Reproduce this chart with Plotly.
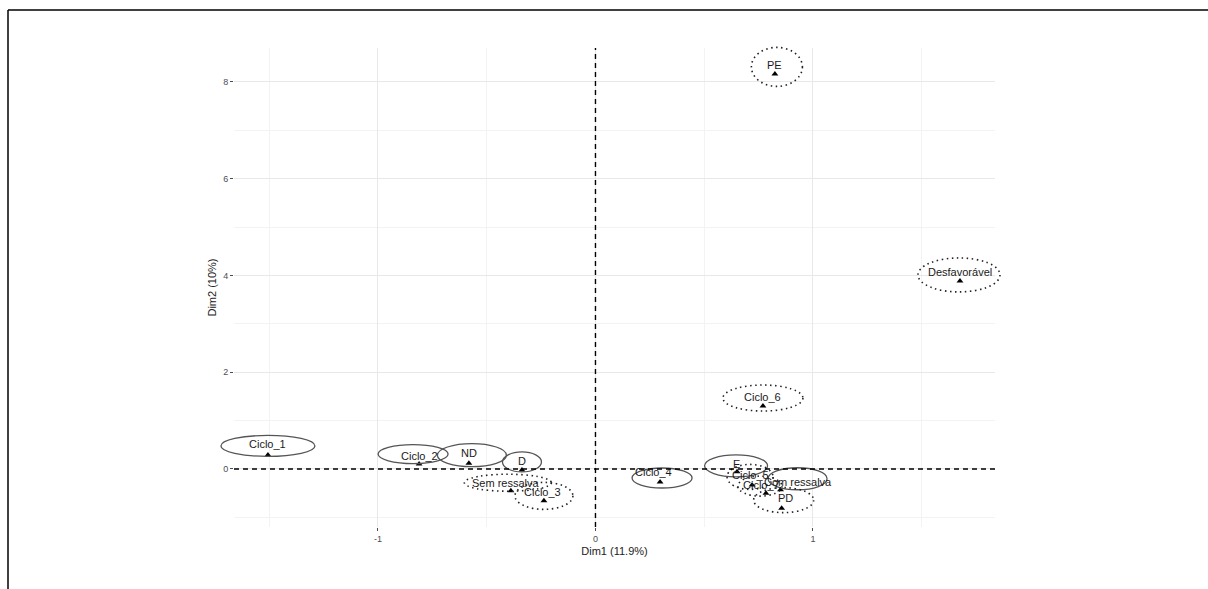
import plotly.graph_objects as go

# Category coordinates on the first two dimensions
categories = ["Ciclo_1", "Ciclo_2", "ND", "D", "Sem ressalva", "Ciclo_3", "Ciclo_4",
              "E", "Ciclo_5", "Ciclo_7", "Com ressalva", "PD", "Ciclo_6",
              "Desfavorável", "PE"]
dim1 = [-1.506, -0.811, -0.582, -0.338, -0.389, -0.237, 0.297,
        0.651, 0.720, 0.784, 0.851, 0.856, 0.770, 1.676, 0.825]
dim2 = [0.29, 0.10, 0.12, -0.02, -0.45, -0.66, -0.27,
        -0.06, -0.33, -0.50, -0.43, -0.81, 1.30, 3.886, 8.165]
group = ["solid", "solid", "solid", "solid", "dot", "dot", "solid",
         "solid", "dot", "dot", "solid", "dot", "dot", "dot", "dot"]

x_ticks = [-1, 0, 1]
y_ticks = [0, 2, 4, 6, 8]

# Label placement (pixel offsets from the point) and ellipse outline sizes (pixels)
label_dx = [0, 0, 0, 0, -5, -1, -7, -1, -2, -4, 17, 4, 0, 0, 0]
label_dy = [11, 8, 10, 9, 8, 9, 10, 8, 10, 8, 8, 10, 9, 9, 9]
ell_dx = [0, -6, 3, 0, -3, 0, 2, -1, -2, -6, 17, 2, 0, -1, 2]
ell_dy = [9, 10, 8, 8, 8, 5, 4, 6, 8, 7, 11, 8, 8, 6, 7]
ell_w = [94, 70, 69, 39, 87, 58, 60, 63, 46, 44, 59, 60, 80, 82, 51]
ell_h = [21, 19, 23, 20, 17, 27, 20, 22, 25, 20, 22, 25, 26, 34, 39]

W, H = 1208, 589
ML, MR, MT, MB = 234, 213, 48, 62
x_range = [-1.662, 1.837]
y_range = [-1.2, 8.7]
pw, ph = W - ML - MR, H - MT - MB

# Conversions to paper fractions (paper shapes are not clipped to the panel)
def xp(v):
    return (v - x_range[0]) / (x_range[1] - x_range[0])

def yp(v):
    return (v - y_range[0]) / (y_range[1] - y_range[0])

fig = go.Figure()

fig.add_trace(go.Scatter(
    x=dim1, y=dim2, mode="markers",
    marker=dict(symbol="triangle-up", size=6, color="black"),
    hoverinfo="text", text=categories, showlegend=False,
))

shapes = []
for i, name in enumerate(categories):
    cx = xp(dim1[i]) + ell_dx[i] / pw
    cy = yp(dim2[i]) + ell_dy[i] / ph
    hw = ell_w[i] / 2 / pw
    hh = ell_h[i] / 2 / ph
    if group[i] == "solid":
        line = dict(color="#555555", width=1.3)
    else:
        line = dict(color="#222222", width=1.6, dash="1.5px,3.5px")
    shapes.append(dict(type="circle", xref="paper", yref="paper",
                       x0=cx - hw, x1=cx + hw, y0=cy - hh, y1=cy + hh,
                       line=line, layer="above"))
    fig.add_annotation(x=dim1[i], y=dim2[i], text=name, showarrow=False,
                       xshift=label_dx[i], yshift=label_dy[i],
                       font=dict(family="Liberation Sans, Arial", size=11, color="#1a1a1a"))

# Dashed reference lines through the origin
shapes.append(dict(type="line", xref="x", yref="paper", x0=0, x1=0, y0=0, y1=1,
                   line=dict(color="black", width=1.4, dash="5px,4px"), layer="above"))
shapes.append(dict(type="line", xref="paper", yref="y", x0=0, x1=1, y0=0, y1=0,
                   line=dict(color="black", width=1.4, dash="5px,4px"), layer="above"))

# Frame lines along the top and left edges of the figure
px = lambda p: (p - ML) / pw
py = lambda p: (H - MB - p) / ph
shapes.append(dict(type="line", xref="paper", yref="paper",
                   x0=px(8), x1=px(W + 10), y0=py(10), y1=py(10),
                   line=dict(color="black", width=1.5)))
shapes.append(dict(type="line", xref="paper", yref="paper",
                   x0=px(8), x1=px(8), y0=py(10), y1=py(H + 10),
                   line=dict(color="black", width=1.5)))

axis_font = dict(family="Liberation Sans, Arial", size=9, color="#4d4d4d")
fig.update_layout(
    width=W, height=H,
    margin=dict(l=ML, r=MR, t=MT, b=MB),
    paper_bgcolor="white", plot_bgcolor="white",
    shapes=shapes,
    font=dict(family="Liberation Sans, Arial"),
    xaxis=dict(range=x_range, tickvals=x_ticks, ticktext=[str(v) for v in x_ticks],
               showgrid=True, gridcolor="#e8e8e8", gridwidth=0.8, zeroline=False,
               ticks="outside", ticklen=3, tickcolor="#4d4d4d", tickfont=axis_font,
               minor=dict(dtick=0.5, tick0=0, showgrid=True, gridcolor="#f3f3f3", gridwidth=0.6),
               title=dict(text="Dim1 (11.9%)", font=dict(size=11, color="#222222"), standoff=4),
               showline=False),
    yaxis=dict(range=y_range, tickvals=y_ticks, ticktext=[str(v) for v in y_ticks],
               showgrid=True, gridcolor="#e8e8e8", gridwidth=0.8, zeroline=False,
               ticks="outside", ticklen=3, tickcolor="#4d4d4d", tickfont=axis_font,
               minor=dict(dtick=1, tick0=0, showgrid=True, gridcolor="#f3f3f3", gridwidth=0.6),
               title=dict(text="Dim2 (10%)", font=dict(size=11, color="#222222"), standoff=4),
               showline=False),
)

fig.write_html("out.html")
